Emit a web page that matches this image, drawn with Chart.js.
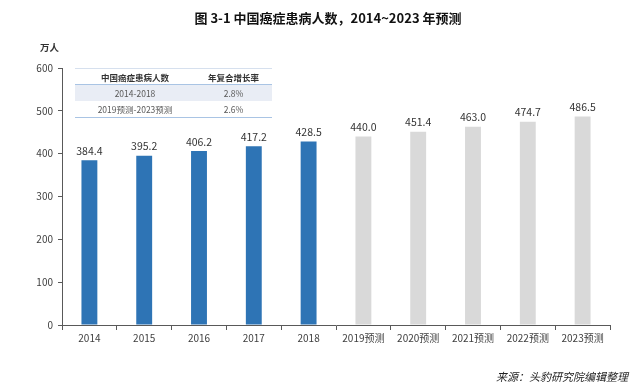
<!DOCTYPE html>
<html>
<head>
<meta charset="utf-8">
<script src="https://cdn.jsdelivr.net/npm/chart.js@4.4.0/dist/chart.umd.min.js"></script>
<style>
    body { margin: 0; background: #fff; font-family: "Noto Sans CJK SC", "Noto Sans", sans-serif; }
    #containerDiv { position: relative; width: 640px; height: 390px; overflow: hidden; }
    #chartTitle { position: absolute; left: 0; width: 656px; top: 8px; text-align: center; font-size: 13px; font-weight: bold; color: #111; }
    #unitText { position: absolute; left: 40px; top: 40px; font-size: 9.5px; font-weight: bold; color: #333; }
    #sourceText { position: absolute; right: 12px; top: 368px; font-size: 11px; font-style: italic; color: #222; }
    #cagrTable { position: absolute; left: 75px; top: 68px; width: 197px; border-collapse: collapse; font-size: 8.5px; color: #595959; }
    #cagrTable th { font-weight: bold; color: #333; height: 15px; border-top: 1px solid #d6e0ee; border-bottom: 1px solid #a9c4e4; padding: 0; }
    #cagrTable td { height: 16px; padding: 0; text-align: center; }
    #cagrTable tr.shaded td { background: #e9edf5; }
    #cagrTable tr.last td { border-bottom: 1px solid #a9c4e4; }
</style>
</head>
<body>
<div id="containerDiv">
    <canvas id="barChart" width="640" height="390"></canvas>
    <div id="chartTitle">图 3-1 中国癌症患病人数，2014~2023 年预测</div>
    <div id="unitText">万人</div>
    <table id="cagrTable"></table>
    <div id="sourceText">来源：头豹研究院编辑整理</div>
</div>
<script>
// Data
const categories = ['2014', '2015', '2016', '2017', '2018', '2019预测', '2020预测', '2021预测', '2022预测', '2023预测'];
const patients = [384.4, 395.2, 406.2, 417.2, 428.5, 440.0, 451.4, 463.0, 474.7, 486.5];
const yTicks = [0, 100, 200, 300, 400, 500, 600];
const tableHeader = ['中国癌症患病人数', '年复合增长率'];
const tablePeriods = ['2014-2018', '2019预测-2023预测'];
const tableRates = ['2.8%', '2.6%'];

// Build the small CAGR table
const cagrTable = document.getElementById('cagrTable');
let html = '<tr><th style="width:120px">' + tableHeader[0] + '</th><th>' + tableHeader[1] + '</th></tr>';
tablePeriods.forEach((p, i) => {
    const cls = i === 0 ? 'shaded' : 'last';
    html += '<tr class="' + cls + '"><td>' + p + '</td><td>' + tableRates[i] + '</td></tr>';
});
cagrTable.innerHTML = html;

// actual values are blue, forecasts are grey
const barColors = categories.map(c => c.indexOf('预测') >= 0 ? '#d9d9d9' : '#2e74b5');

// Plugin for value labels above the bars
const valueLabels = {
    id: 'valueLabels',
    afterDatasetsDraw(chart) {
        const ctx = chart.ctx;
        const meta = chart.getDatasetMeta(0);
        ctx.save();
        ctx.font = '10.5px "Noto Sans CJK SC", sans-serif';
        ctx.fillStyle = '#333';
        ctx.textAlign = 'center';
        ctx.textBaseline = 'bottom';
        meta.data.forEach((bar, i) => {
            ctx.fillText(patients[i].toFixed(1), bar.x, bar.y - 4);
        });
        ctx.restore();
    }
};

const axisColor = '#595959';
const ctx = document.getElementById('barChart').getContext('2d');
const config = {
    type: 'bar',
    data: {
        labels: categories,
        datasets: [{
            data: patients,
            backgroundColor: barColors,
            barPercentage: 0.29,
            categoryPercentage: 1.0
        }]
    },
    options: {
        responsive: false,
        devicePixelRatio: 1,
        animation: false,
        layout: { padding: { top: 68, right: 30, left: 0, bottom: 0 } },
        plugins: {
            legend: { display: false },
            tooltip: { enabled: false }
        },
        scales: {
            x: {
                offset: true,
                grid: { display: true, drawOnChartArea: false, offset: true, tickLength: 5, color: axisColor },
                border: { display: true, color: axisColor, width: 1 },
                ticks: {
                    color: '#404040',
                    font: { size: 10, family: '"Noto Sans CJK SC", sans-serif' },
                    maxRotation: 0,
                    padding: 2
                },
                afterFit: (scale) => { scale.height = 65; }
            },
            y: {
                min: 0,
                max: 600,
                afterBuildTicks: (scale) => { scale.ticks = yTicks.map(v => ({ value: v })); },
                grid: { display: true, drawOnChartArea: false, tickLength: 4, color: axisColor },
                border: { display: true, color: axisColor, width: 1 },
                ticks: {
                    color: '#404040',
                    font: { size: 10, family: '"Noto Sans CJK SC", sans-serif' },
                    padding: 5
                },
                afterFit: (scale) => { scale.width = 62; }
            }
        }
    },
    plugins: [valueLabels]
};

const barChart = new Chart(ctx, config);
</script>
</body>
</html>
